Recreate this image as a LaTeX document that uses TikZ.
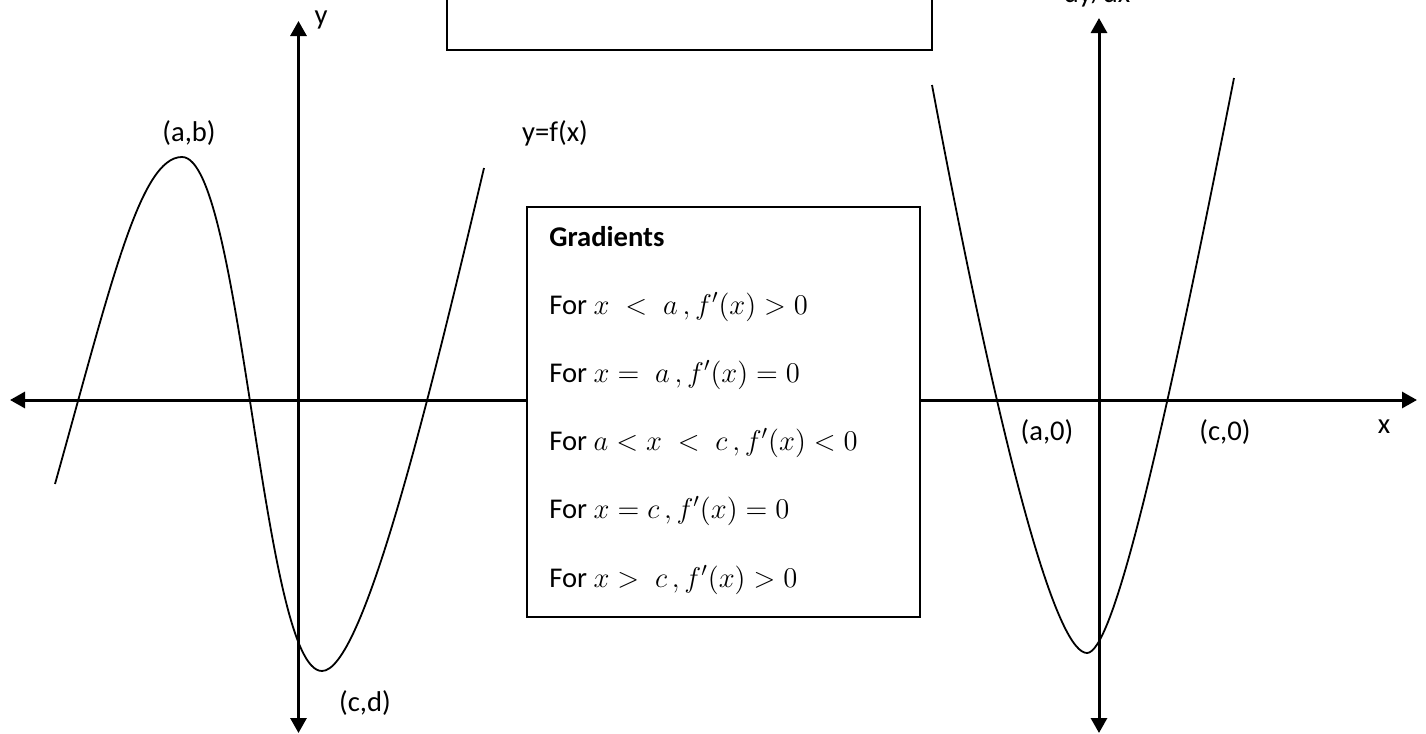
\documentclass[tikz,border=0pt]{standalone}
\usepackage{fix-cm}
\usepackage[no-math]{fontspec}
\setmainfont{Carlito}
\usetikzlibrary{arrows.meta}
\begin{document}
\begin{tikzpicture}[x=0.5pt,y=-0.5pt,
  axis/.style={line width=1.5pt,
    {Triangle[length=7.5pt,width=8pt]}-{Triangle[length=7.5pt,width=8pt]}},
  curve/.style={line width=0.9pt},
  lbl/.style={font=\fontsize{14.3}{17}\selectfont, inner sep=0pt},
  boxtext/.style={font=\fontsize{14.3}{17}\selectfont, inner sep=0pt, anchor=base west},
  frame/.style={draw, line width=0.9pt, fill=white, inner sep=0pt}]
\useasboundingbox (0,0) rectangle (1426,734);
\fill[white] (0,0) rectangle (1426,734);

% axes
\coordinate (lyt) at (298.5,21);
\coordinate (lyb) at (298.5,733);
\coordinate (ryt) at (1099,18);
\coordinate (ryb) at (1099,733);
\coordinate (xl) at (10,400);
\coordinate (xr) at (1417,400);
\draw[axis] (lyb) -- (lyt);
\draw[axis] (ryb) -- (ryt);
\draw[axis] (xl) -- (xr);

% y = f(x)
\draw[curve] (55,484) .. controls (111,284) and (140,157) .. (182,157)
  .. controls (242,157) and (262,671) .. (322,671)
  .. controls (362,671) and (425,418) .. (484,168);

% dy/dx
\draw[curve] (932,85) .. controls (1010,500) and (1060,653) .. (1087,653)
  .. controls (1112,653) and (1159,460) .. (1234,78);

% boxes
\node[frame, minimum width=242.5pt, minimum height=35pt] (topbox) at (689.5,15) {};
\node[frame, minimum width=196.5pt, minimum height=205pt] (grad) at (723.5,412) {};

% box text
\node[boxtext] (g0) at (549,246) {\textbf{Gradients}};
\node[boxtext] (g1) at (549,314) {For $x\;<\;a\,,f'(x)>0$};
\node[boxtext] (g2) at (549,382) {For $x=\;a\,,f'(x)=0$};
\node[boxtext] (g3) at (549,450) {For $a<x\;<\;c\,,f'(x)<0$};
\node[boxtext] (g4) at (549,518) {For $x=c\,,f'(x)=0$};
\node[boxtext] (g5) at (549,587) {For $x>\;c\,,f'(x)>0$};

% labels
\node[lbl, anchor=base] (ly) at (321,24) {y};
\node[lbl, anchor=base] (lab) at (189,141) {(a,b)};
\node[lbl, anchor=base] (lf) at (555,141) {y=f(x)};
\node[lbl, anchor=base] (lcd) at (365,711) {(c,d)};
\node[lbl, anchor=base] (la0) at (1047,440) {(a,0)};
\node[lbl, anchor=base] (lc0) at (1225,440) {(c,0)};
\node[lbl, anchor=base] (lx) at (1384,433) {x};
\node[lbl, anchor=base] (ldy) at (1097,2.5) {dy/dx};
\end{tikzpicture}
\end{document}
